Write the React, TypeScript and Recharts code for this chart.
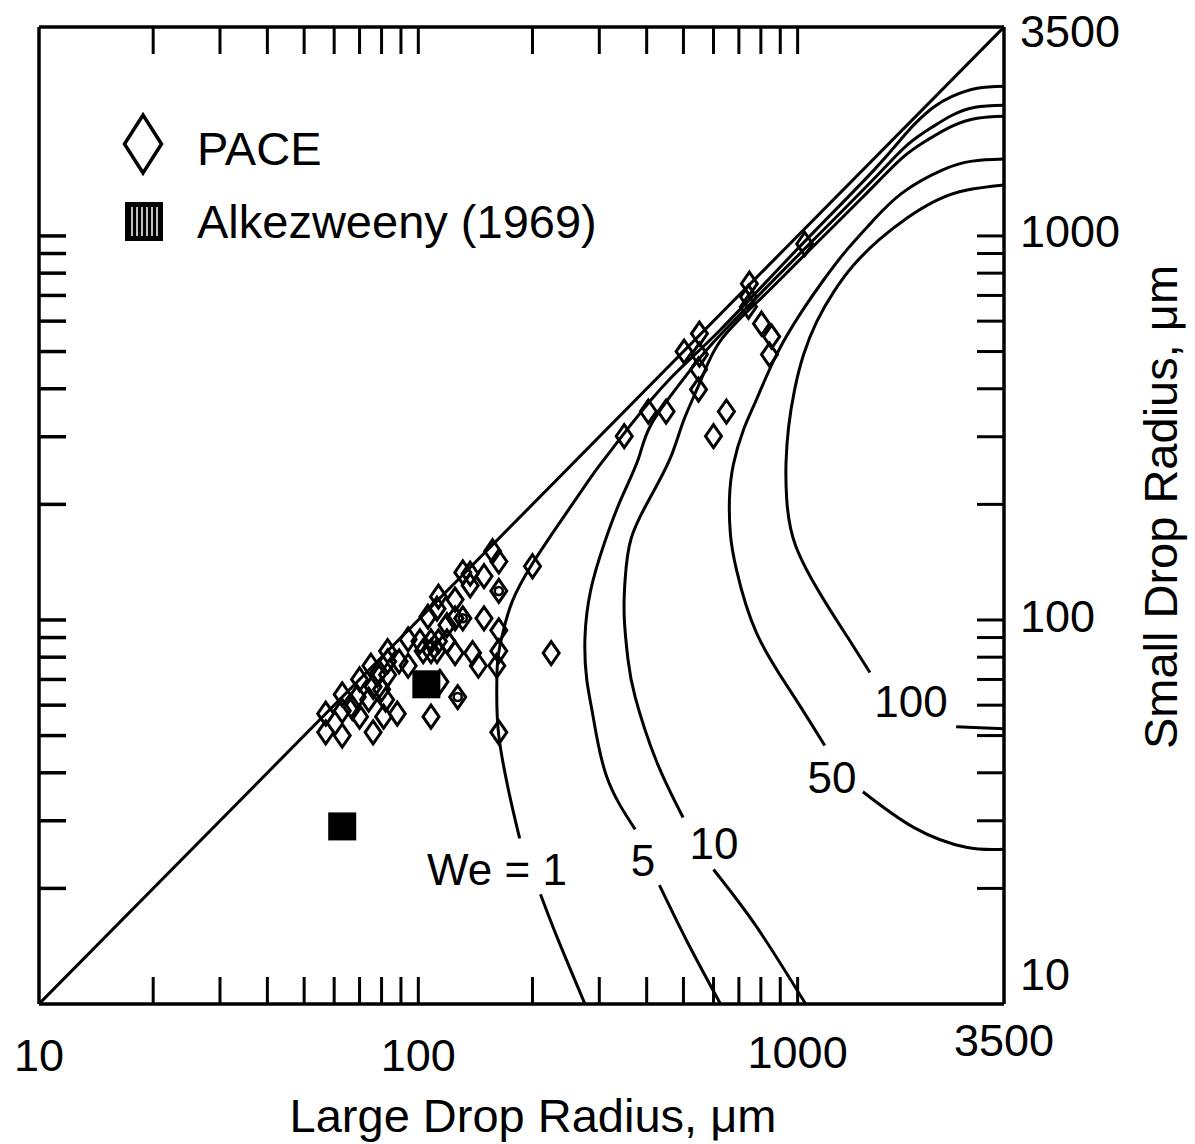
import React from "react";
import { ComposedChart, Line, Scatter, XAxis, YAxis } from "recharts";

type Pt = [number, number];

// log axes, 10 .. 3500 on both
const TICKS = [10, 20, 30, 40, 50, 60, 70, 80, 90, 100, 200, 300, 400, 500, 600, 700, 800, 900, 1000, 3500];
const TICK_LABELS = [10, 100, 1000, 3500];

const DIAGONAL: Pt[] = [[10, 10], [3500, 3500]];

// Weber number contours, each split where its label sits
const WE1_UPPER: Pt[] = [
  [3500, 2453], [2975, 2424], [2555, 2310], [2262, 2150], [1943, 1863], [1589, 1484], [994, 920],
  [626, 570], [459, 423], [364, 323], [309, 262], [284, 234], [233, 176], [198, 138], [177, 112],
  [167, 92.5], [162, 79], [161, 66], [163, 50], [174, 35], [185, 27],
];
const WE1_LOWER: Pt[] = [[210, 19.3], [233, 14.8], [275, 10]];

const WE5_UPPER: Pt[] = [
  [3500, 2189], [2940, 2163], [2555, 2062], [2262, 1919], [1943, 1723], [1532, 1357], [964, 856],
  [760, 674], [592, 521], [499, 423], [411, 323], [380, 262], [342, 206], [309, 158], [285, 120],
  [275, 90], [278, 70], [289, 56], [314, 39], [373, 28.5],
];
const WE5_LOWER: Pt[] = [[432, 20.4], [512, 14.5], [626, 10]];

const WE10_UPPER: Pt[] = [
  [3500, 2050], [2975, 2025], [2555, 1931], [2194, 1775], [1884, 1594], [1477, 1255], [1025, 877],
  [803, 690], [629, 537], [557, 423], [502, 333], [461, 263], [406, 206], [364, 163], [351, 128],
  [349, 102], [357, 79], [373, 63], [424, 43], [499, 30.6],
];
const WE10_LOWER: Pt[] = [[600, 22.4], [779, 15.9], [1050, 10]];

const WE50_UPPER: Pt[] = [
  [3500, 1585], [2886, 1566], [2404, 1484], [1884, 1293], [1570, 1088], [1348, 920], [1172, 769],
  [1025, 635], [880, 491], [779, 375], [720, 313], [677, 254], [661, 206], [665, 167], [690, 135],
  [779, 92.5], [964, 64.6], [1179, 47.1],
];
const WE50_LOWER: Pt[] = [[1486, 35.7], [2027, 28.8], [2782, 25.6], [3500, 25.3]];

const WE100_UPPER: Pt[] = [
  [3500, 1357], [2800, 1317], [2331, 1240], [1943, 1114], [1638, 976], [1407, 841], [1245, 715],
  [1123, 598], [1037, 491], [982, 398], [947, 319], [932, 257], [936, 206], [988, 156], [1165, 114],
  [1356, 90], [1551, 73],
];
const WE100_LOWER: Pt[] = [[2618, 52.7], [3500, 52.1]];

const PACE: Pt[] = [
  [157, 151], [163, 142], [131, 133], [137, 132], [149, 130], [137, 123], [163, 119], [113, 115],
  [125, 113], [112, 107], [106, 102], [131, 101], [125, 101], [149, 101], [119, 97], [163, 94],
  [94, 89], [101, 88], [108, 88], [113, 88], [119, 88], [103, 83], [108, 83], [112, 83], [125, 82],
  [139, 82], [144, 76], [163, 83], [161, 76], [83, 83], [89, 78], [94, 76], [83, 78], [75, 76],
  [78, 72], [70, 70], [83, 72], [76, 67], [80, 66], [63, 64], [69, 63], [74, 62], [82, 62],
  [114, 69], [57, 57], [63, 58], [67, 59], [70, 56], [81, 56], [88, 57], [127, 63], [108, 56],
  [57, 51], [63, 50], [76, 51], [163, 51], [224, 82], [200, 138],
  [746, 751], [742, 694], [742, 654], [803, 591], [854, 547], [843, 491], [1044, 953],
  [551, 557], [502, 500], [551, 491], [548, 449], [548, 398], [404, 349], [450, 349],
  [349, 301], [649, 349], [600, 301],
];
// PACE points drawn with an inner ring
const PACE_RINGED: Pt[] = [[163, 119], [131, 101], [127, 63]];

const ALKEZWEENY: Pt[] = [[105, 68], [63, 29]];

const toRows = (pts: Pt[]) => pts.map(([x, y]) => ({ x, y }));

const FONT = "'Liberation Sans', Arial, Helvetica, sans-serif";
const TICK_LEN = 27;
const isEdge = (v: number) => v === 10 || v === 3500;

const BOTTOM_DY: Record<number, number> = { 10: 51, 100: 51, 1000: 48, 3500: 36 };
const RIGHT_DY: Record<number, number> = { 10: -30, 100: -3, 1000: -4, 3500: 4 };

const BottomTick = ({ x, y, payload }: any) => {
  const v = payload.value;
  return (
    <g>
      {!isEdge(v) && <line x1={x} x2={x} y1={y} y2={y - TICK_LEN} stroke="#000" strokeWidth={3} />}
      {TICK_LABELS.includes(v) && (
        <text x={x} y={y + BOTTOM_DY[v]} textAnchor="middle" dominantBaseline="central"
          fontFamily={FONT} fontSize={45} fill="#000">
          {v}
        </text>
      )}
    </g>
  );
};

const TopTick = ({ x, y, payload }: any) =>
  isEdge(payload.value) ? <g /> : <line x1={x} x2={x} y1={y} y2={y + TICK_LEN} stroke="#000" strokeWidth={3} />;

const LeftTick = ({ x, y, payload }: any) =>
  isEdge(payload.value) ? <g /> : <line x1={x} x2={x + TICK_LEN} y1={y} y2={y} stroke="#000" strokeWidth={3.5} />;

const RightTick = ({ x, y, payload }: any) => {
  const v = payload.value;
  return (
    <g>
      {!isEdge(v) && <line x1={x} x2={x - TICK_LEN} y1={y} y2={y} stroke="#000" strokeWidth={3} />}
      {TICK_LABELS.includes(v) && (
        <text x={x + 16} y={y + RIGHT_DY[v]} textAnchor="start" dominantBaseline="central"
          fontFamily={FONT} fontSize={45} fill="#000">
          {v}
        </text>
      )}
    </g>
  );
};

const Diamond = ({ cx, cy }: any) => (
  <polygon
    points={`${cx},${cy - 11.5} ${cx + 8},${cy} ${cx},${cy + 11.5} ${cx - 8},${cy}`}
    fill="none" stroke="#000" strokeWidth={3}
  />
);
const Ring = ({ cx, cy }: any) => <circle cx={cx} cy={cy} r={4} fill="none" stroke="#000" strokeWidth={2.5} />;
const Square = ({ cx, cy }: any) => <rect x={cx - 14} y={cy - 14} width={28} height={28} fill="#000" />;

const curves = [
  DIAGONAL, WE1_UPPER, WE1_LOWER, WE5_UPPER, WE5_LOWER, WE10_UPPER, WE10_LOWER,
  WE50_UPPER, WE50_LOWER, WE100_UPPER, WE100_LOWER,
];

const axisLine = { stroke: "#000", strokeWidth: 3.5 };

export default function App() {
  return (
    <div style={{ position: "absolute", left: 0, top: 0, width: 1195, height: 1144, background: "#fff" }}>
      <ComposedChart width={1195} height={1144} margin={{ top: 17, right: 91, bottom: 80, left: 29 }}>
        <XAxis xAxisId="b" dataKey="x" type="number" scale="log" domain={[10, 3500]} allowDataOverflow
          ticks={TICKS} interval={0} height={60} tickSize={0} tickMargin={0} tickLine={false}
          axisLine={axisLine} tick={<BottomTick />} />
        <XAxis xAxisId="t" orientation="top" dataKey="x" type="number" scale="log" domain={[10, 3500]}
          allowDataOverflow ticks={TICKS} interval={0} height={10} tickSize={0} tickMargin={0}
          tickLine={false} axisLine={axisLine} tick={<TopTick />} />
        <YAxis yAxisId="l" dataKey="y" type="number" scale="log" domain={[10, 3500]} allowDataOverflow
          ticks={TICKS} interval={0} width={10} tickSize={0} tickMargin={0} tickLine={false}
          axisLine={axisLine} tick={<LeftTick />} />
        <YAxis yAxisId="r" orientation="right" dataKey="y" type="number" scale="log" domain={[10, 3500]}
          allowDataOverflow ticks={TICKS} interval={0} width={100} tickSize={0} tickMargin={0}
          tickLine={false} axisLine={axisLine} tick={<RightTick />} />

        {curves.map((seg, i) => (
          <Line key={i} xAxisId={i === 0 ? "t" : "b"} yAxisId={i === 0 ? "r" : "l"} data={toRows(seg)}
            dataKey="y" type="natural" stroke="#000" strokeWidth={3} dot={false} activeDot={false}
            isAnimationActive={false} />
        ))}

        <Scatter xAxisId="b" yAxisId="l" data={toRows(PACE)} shape={<Diamond />} isAnimationActive={false} />
        <Scatter xAxisId="b" yAxisId="l" data={toRows(PACE_RINGED)} shape={<Ring />} isAnimationActive={false} />
        <Scatter xAxisId="b" yAxisId="l" data={toRows(ALKEZWEENY)} shape={<Square />} isAnimationActive={false} />
      </ComposedChart>

      <svg width={1195} height={1144} style={{ position: "absolute", left: 0, top: 0, pointerEvents: "none" }}
        fontFamily={FONT} fill="#000">
        {/* legend */}
        <polygon points="143,115 161.5,144 143,173 124.5,144" fill="none" stroke="#000" strokeWidth={3.5} />
        <text x={197} y={148} fontSize={47} dominantBaseline="central">PACE</text>
        <rect x={125} y={202} width={38} height={39} fill="#000" />
        {[132, 137, 142, 147, 152, 157].map((lx) => (
          <line key={lx} x1={lx} x2={lx} y1={207} y2={236} stroke="#fff" strokeWidth={1.5} />
        ))}
        <text x={197} y={221} fontSize={47} dominantBaseline="central">Alkezweeny (1969)</text>

        {/* contour labels */}
        <text x={497} y={869} fontSize={44} textAnchor="middle" dominantBaseline="central">We = 1</text>
        <text x={643} y={860} fontSize={44} textAnchor="middle" dominantBaseline="central">5</text>
        <text x={714} y={843} fontSize={44} textAnchor="middle" dominantBaseline="central">10</text>
        <text x={832} y={777} fontSize={44} textAnchor="middle" dominantBaseline="central">50</text>
        <text x={911} y={701} fontSize={44} textAnchor="middle" dominantBaseline="central">100</text>

        {/* axis titles */}
        <text x={533} y={1115} fontSize={47} textAnchor="middle" dominantBaseline="central">
          Large Drop Radius, μm
        </text>
        <text transform="translate(1160,507) rotate(-90)" fontSize={47} textAnchor="middle"
          dominantBaseline="central">
          Small Drop Radius, μm
        </text>
      </svg>
    </div>
  );
}
